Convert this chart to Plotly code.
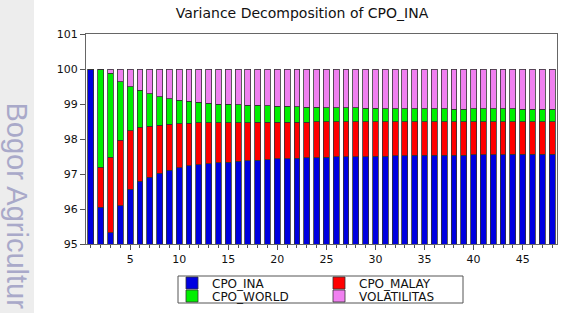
import plotly.graph_objects as go

periods = list(range(1, 49))

cpo_ina = [100.00, 96.05, 95.32, 96.10, 96.57, 96.79, 96.91, 97.02, 97.11, 97.18,
           97.23, 97.27, 97.30, 97.32, 97.34, 97.36, 97.38, 97.40, 97.41, 97.43,
           97.44, 97.45, 97.46, 97.47, 97.48, 97.49, 97.49, 97.50, 97.50, 97.51,
           97.51, 97.52, 97.52, 97.53, 97.53, 97.53, 97.54, 97.54, 97.54, 97.55,
           97.55, 97.55, 97.55, 97.56, 97.56, 97.56, 97.56, 97.57]
cpo_malay = [0.00, 1.14, 2.16, 1.87, 1.67, 1.54, 1.46, 1.38, 1.31, 1.26,
             1.22, 1.19, 1.16, 1.15, 1.13, 1.11, 1.09, 1.08, 1.07, 1.05,
             1.04, 1.03, 1.02, 1.02, 1.01, 1.00, 1.00, 0.99, 0.99, 0.98,
             0.98, 0.97, 0.97, 0.96, 0.96, 0.96, 0.95, 0.95, 0.95, 0.95,
             0.95, 0.95, 0.95, 0.94, 0.94, 0.94, 0.94, 0.93]
cpo_world = [0.00, 2.81, 2.40, 1.67, 1.26, 1.06, 0.93, 0.81, 0.73, 0.67,
             0.63, 0.59, 0.56, 0.53, 0.52, 0.51, 0.50, 0.48, 0.47, 0.46,
             0.45, 0.44, 0.43, 0.42, 0.41, 0.41, 0.40, 0.40, 0.39, 0.39,
             0.38, 0.38, 0.38, 0.37, 0.37, 0.37, 0.37, 0.36, 0.36, 0.36,
             0.36, 0.36, 0.36, 0.36, 0.35, 0.35, 0.35, 0.35]
volatilitas = [0.00, 0.00, 0.12, 0.36, 0.50, 0.61, 0.70, 0.79, 0.85, 0.89,
               0.92, 0.95, 0.98, 1.00, 1.01, 1.02, 1.03, 1.04, 1.05, 1.06,
               1.07, 1.08, 1.09, 1.09, 1.10, 1.10, 1.11, 1.11, 1.12, 1.12,
               1.13, 1.13, 1.13, 1.14, 1.14, 1.14, 1.14, 1.15, 1.15, 1.14,
               1.14, 1.14, 1.14, 1.14, 1.15, 1.15, 1.15, 1.15]

series = [
    ("CPO_INA", cpo_ina, "#0000E0", "legend"),
    ("CPO_MALAY", cpo_malay, "#FF0000", "legend"),
    ("CPO_WORLD", cpo_world, "#00F000", "legend2"),
    ("VOLATILITAS", volatilitas, "#F080F0", "legend2"),
]

fig = go.Figure()
for name, vals, color, lg in series:
    fig.add_trace(go.Bar(
        x=periods, y=vals, name=name, width=0.6,
        marker=dict(color=color, line=dict(color="#333333", width=0.8)),
        legend=lg,
    ))

font = "DejaVu Sans, Arial, sans-serif"
L, R, T, B = 86, 9, 34, 69
W, H = 566, 313
pw, ph = W - L - R, H - T - B

def px_x(p):
    return (p - L) / pw

def px_y(p):
    return (H - B - p) / ph

leg_common = dict(
    orientation="h", xanchor="left", yanchor="middle",
    bgcolor="rgba(0,0,0,0)", borderwidth=0, traceorder="normal",
    font=dict(family=font, size=12, color="#111111"),
    entrywidth=102, entrywidthmode="pixels",
    itemclick=False, tracegroupgap=0,
)

fig.update_layout(
    width=W, height=H,
    margin=dict(l=L, r=R, t=T, b=B, autoexpand=False),
    paper_bgcolor="white", plot_bgcolor="white",
    barmode="stack", bargap=0.4,
    showlegend=True,
    title=dict(text="Variance Decomposition of CPO_INA",
               font=dict(family=font, size=14, color="#111111"),
               x=px_x(302), xref="paper", xanchor="center",
               y=1 - 13 / H, yanchor="middle"),
    legend=dict(x=px_x(172), y=px_y(283), **leg_common),
    legend2=dict(x=px_x(172), y=px_y(296), **leg_common),
    xaxis=dict(range=[0.5, 48.5], tick0=5, dtick=5, ticks="outside",
               ticklen=5, tickcolor="#555555", showgrid=False, zeroline=False,
               showline=True, linecolor="#666666", linewidth=1, mirror=True,
               tickfont=dict(family=font, size=11, color="#111111"),
               minor=dict(dtick=1, tick0=0, ticks="outside", ticklen=3,
                          tickcolor="#555555", showgrid=False)),
    yaxis=dict(range=[95, 101], dtick=1, ticks="outside", ticklen=5,
               tickcolor="#555555", showgrid=False, zeroline=False,
               showline=True, linecolor="#666666", linewidth=1, mirror=True,
               tickfont=dict(family=font, size=11, color="#111111")),
    shapes=[
        dict(type="rect", xref="paper", yref="paper",
             x0=px_x(0), x1=px_x(34), y0=px_y(H), y1=px_y(0),
             fillcolor="#EDEDED", line=dict(width=0), layer="below"),
        dict(type="rect", xref="paper", yref="paper",
             x0=px_x(178), x1=px_x(463), y0=px_y(303), y1=px_y(276),
             fillcolor="rgba(0,0,0,0)", line=dict(color="#555555", width=1)),
    ],
    annotations=[
        dict(text="Bogor Agricultur", xref="paper", yref="paper",
             x=px_x(17), y=px_y(100), xanchor="center", yanchor="top",
             textangle=90, showarrow=False,
             font=dict(family="Liberation Sans, Arial, sans-serif", size=29, color="#A9A9C9")),
    ],
)

fig.write_html("out.html")
